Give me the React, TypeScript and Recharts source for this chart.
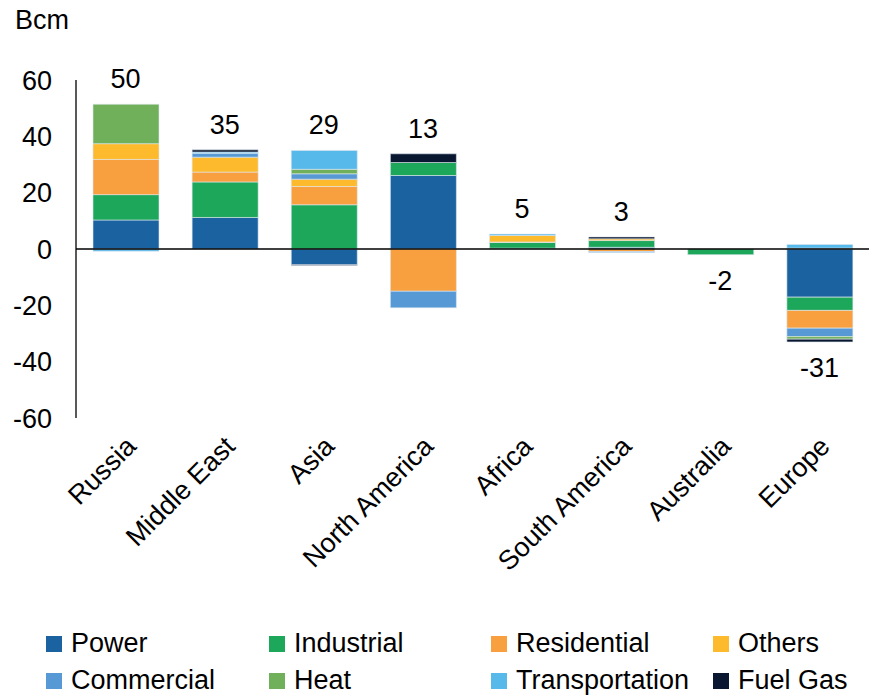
import {
  ComposedChart,
  Bar,
  Line,
  XAxis,
  YAxis,
  ReferenceLine,
  LabelList,
} from 'recharts';

const regions = ['Russia', 'Middle East', 'Asia', 'North America', 'Africa', 'South America', 'Australia', 'Europe'];

const power = [10.3, 11.2, -5.6, 26.1, 0.3, 0.6, 0, -17.1];
const industrial = [9, 12.6, 15.7, 4.6, 2.0, 2.4, -2.0, -4.7];
const residential = [12.5, 3.5, 6.5, -15, 0.2, -0.9, 0, -6.3];
const others = [5.6, 5.3, 2.6, 0, 2.3, 0.6, 0, 0.3];
const commercial = [0, 1.4, 1.9, -5.9, 0, -0.3, 0, -3];
const heat = [14, 0, 1.6, 0, 0, 0, 0, -0.9];
const transportation = [-0.8, 0.4, 6.7, 0, 0.5, 0, 0, 1.3];
const fuelGas = [0, 0.8, -0.3, 3.1, 0, 0.7, 0, -1];

const totals = [50, 35, 29, 13, 5, 3, -2, -31];

const yTicks = [-60, -40, -20, 0, 20, 40, 60];

const SERIES = [
  { key: 'Power', values: power, color: '#1B63A0' },
  { key: 'Industrial', values: industrial, color: '#1CA75A' },
  { key: 'Residential', values: residential, color: '#F89F3F' },
  { key: 'Others', values: others, color: '#FDBA2C' },
  { key: 'Commercial', values: commercial, color: '#5699D5' },
  { key: 'Heat', values: heat, color: '#70B05A' },
  { key: 'Transportation', values: transportation, color: '#57B8EA' },
  { key: 'Fuel Gas', values: fuelGas, color: '#0A1730' },
];

const data = regions.map((name, i) => {
  const row: Record<string, number | string> = { name, total: totals[i] };
  let pos = 0;
  let neg = 0;
  SERIES.forEach(s => {
    const v = s.values[i];
    row[s.key] = v;
    if (v > 0) pos += v;
    else neg += v;
  });
  row.anchor = totals[i] >= 0 ? pos : neg;
  return row;
});

const FONT = '"Liberation Sans", Arial, sans-serif';

const CategoryTick = (props: any) => {
  const { x, y, payload } = props;
  const ax = x + 12;
  const ay = y + 22;
  return (
    <text
      x={ax}
      y={ay}
      transform={`rotate(-45, ${ax}, ${ay})`}
      textAnchor="end"
      fontSize={27}
      fontFamily={FONT}
      fill="#000"
    >
      {payload.value}
    </text>
  );
};

const TotalLabel = (props: any) => {
  const { x, y, value } = props;
  const dy = value >= 0 ? -25 : 26;
  return (
    <text
      x={x}
      y={y + dy}
      textAnchor="middle"
      dominantBaseline="central"
      fontSize={27}
      fontFamily={FONT}
      fill="#000"
    >
      {value}
    </text>
  );
};

export default function App() {
  return (
    <div style={{ position: 'relative', width: 873, height: 696, fontFamily: FONT }}>
      <style>{'body { margin: 0; }'}</style>
      <div style={{ position: 'absolute', left: 15, top: 4, fontSize: 27, lineHeight: '32px' }}>Bcm</div>
      <ComposedChart
        width={873}
        height={696}
        data={data}
        stackOffset="sign"
        margin={{ top: 80, right: 4, left: 0, bottom: 0 }}
      >
        <XAxis
          dataKey="name"
          axisLine={false}
          tickLine={false}
          height={278}
          interval={0}
          tick={<CategoryTick />}
        />
        <YAxis
          domain={[-60, 60]}
          ticks={yTicks}
          width={76}
          tickLine={false}
          tickSize={0}
          tickMargin={24}
          axisLine={{ stroke: '#000', strokeWidth: 1.3 }}
          tick={{ fontSize: 27, fontFamily: FONT, fill: '#000' }}
        />
        {SERIES.map(s => (
          <Bar
            key={s.key}
            dataKey={s.key}
            stackId="a"
            fill={s.color}
            barSize={66}
            stroke="#dfe8f0"
            strokeWidth={0.6}
            isAnimationActive={false}
          />
        ))}
        <ReferenceLine y={0} stroke="#000" strokeWidth={1.5} />
        <Line
          dataKey="anchor"
          stroke="none"
          dot={false}
          activeDot={false}
          isAnimationActive={false}
        >
          <LabelList dataKey="total" content={<TotalLabel />} />
        </Line>
      </ComposedChart>
      <div
        style={{
          position: 'absolute',
          left: 46,
          top: 625,
          display: 'grid',
          gridTemplateColumns: '223px 222px 222px 150px',
          gridAutoRows: '37px',
          fontSize: 27,
        }}
      >
        {SERIES.map(s => (
          <div key={s.key} style={{ display: 'flex', alignItems: 'center', whiteSpace: 'nowrap' }}>
            <span style={{ width: 16, height: 16, background: s.color, marginRight: 9, flexShrink: 0 }} />
            <span>{s.key}</span>
          </div>
        ))}
      </div>
    </div>
  );
}
